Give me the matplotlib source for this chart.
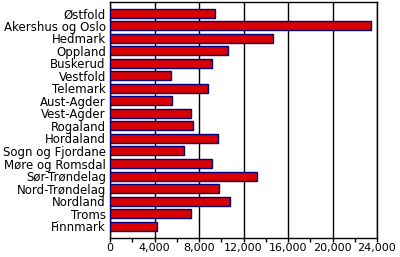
import matplotlib
matplotlib.use("Agg")
import matplotlib.pyplot as plt
import numpy as np

regions = ["Østfold", "Akershus og Oslo", "Hedmark", "Oppland", "Buskerud",
           "Vestfold", "Telemark", "Aust-Agder", "Vest-Agder", "Rogaland",
           "Hordaland", "Sogn og Fjordane", "Møre og Romsdal", "Sør-Trøndelag",
           "Nord-Trøndelag", "Nordland", "Troms", "Finnmark"]
values = [9400, 23430, 14620, 10580, 9140, 5450, 8780, 5540, 7250, 7430,
          9680, 6620, 9140, 13190, 9770, 10760, 7250, 4250]
xticks = [0, 4000, 8000, 12000, 16000, 20000, 24000]

fig = plt.figure(figsize=(4, 2.57), dpi=100)
ax = fig.add_axes([0.275, 0.075, 0.6675, 0.917])

# bars
y = np.arange(len(regions))
ax.barh(y, values, height=0.72, color="#d80000", edgecolor="#000080",
        linewidth=1.0, zorder=3)

ax.set_xlim(0, 24000)
ax.set_ylim(len(regions) - 0.07, -0.9)
ax.set_yticks(y)
ax.set_yticklabels(regions, fontsize=8.5)
ax.tick_params(axis="y", length=0, pad=3)

# x axis: labels every 4000, small ticks in between
ax.set_xticks(xticks)
ax.set_xticklabels([f"{v:,}" for v in xticks], fontsize=8)
ax.set_xticks(np.arange(2000, 24000, 4000), minor=True)
ax.tick_params(axis="x", which="both", direction="out", length=3, width=1, pad=1)
ax.xaxis.grid(True, which="major", color="black", linewidth=1, zorder=0)

for s in ax.spines.values():
    s.set_color("black")
    s.set_linewidth(1)

fig.savefig("out.png", dpi=100)
